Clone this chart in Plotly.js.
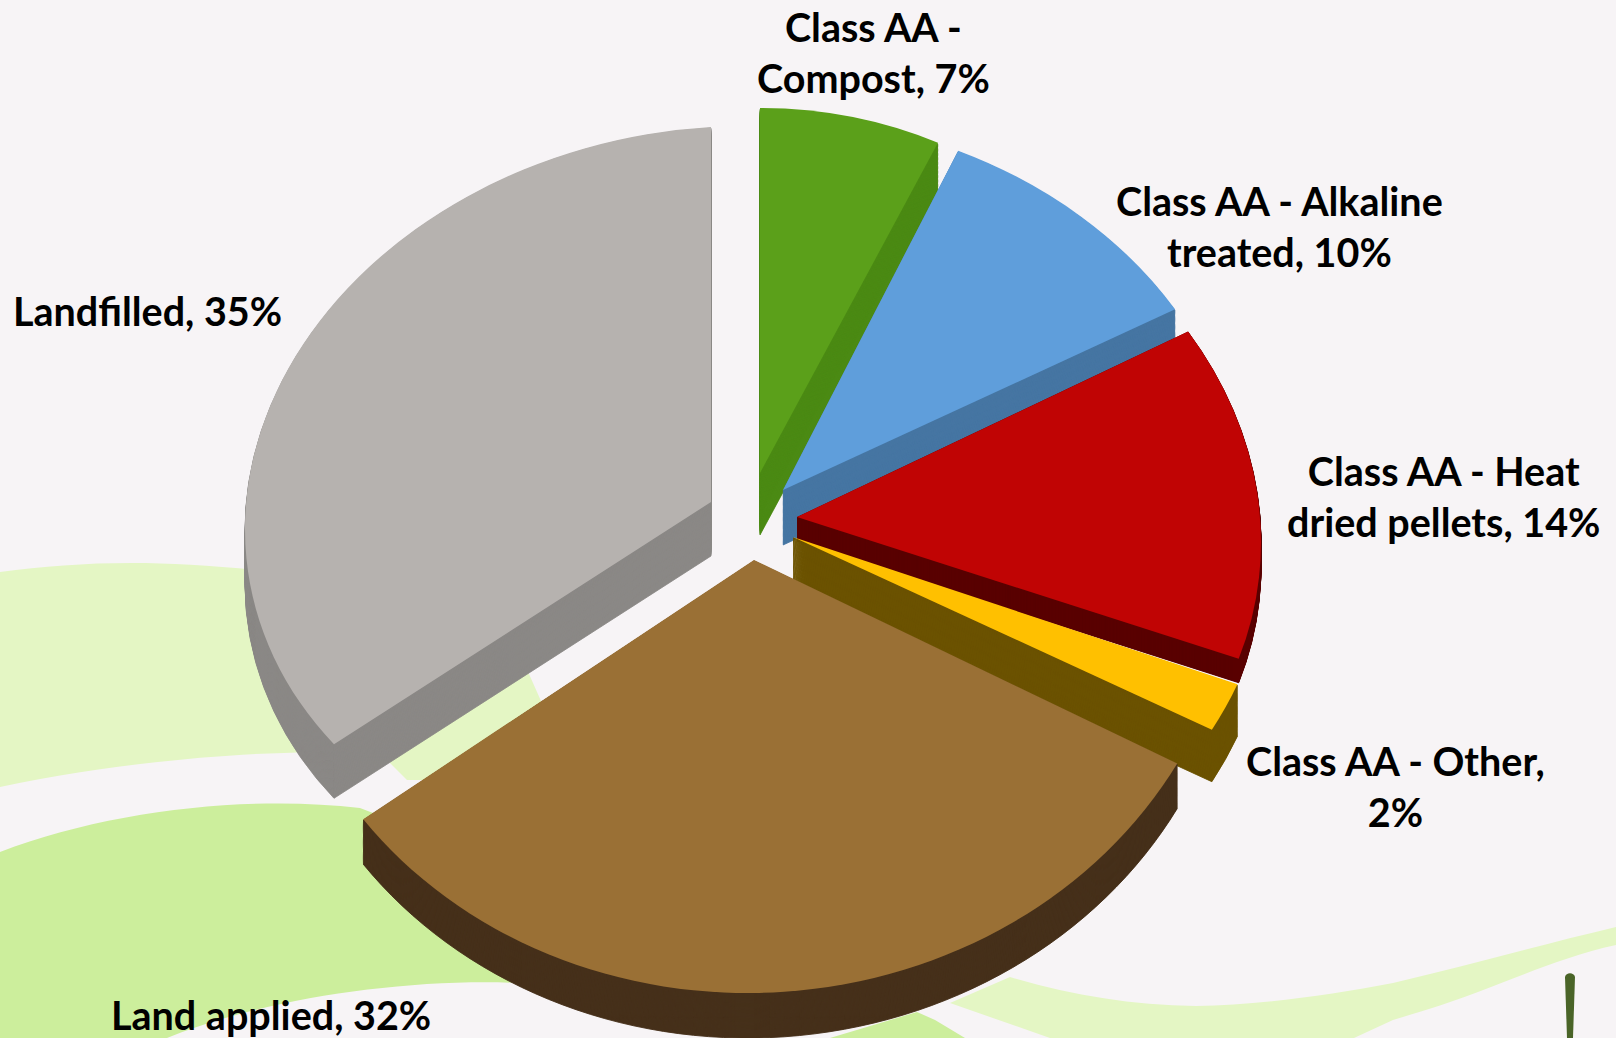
<!DOCTYPE html>
<html>
<head>
<meta charset="utf-8">
<script src="https://cdn.plot.ly/plotly-3.0.1.min.js"></script>
<style>html,body{margin:0;padding:0;background:#f7f4f6;overflow:hidden}#chart{width:1616px;height:1038px}</style>
</head>
<body>
<div id="chart"></div>
<script>
// Data
var categories = ["Class AA - Compost","Class AA - Alkaline treated","Class AA - Heat dried pellets","Class AA - Other","Land applied","Landfilled"];
var shares = [7,10,14,2,32,35];
var labelLines = ["Class AA -<br>Compost, 7%","Class AA - Alkaline<br>treated, 10%","Class AA - Heat<br>dried pellets, 14%","Class AA - Other,<br>2%","Land applied, 32%","Landfilled, 35%"];

// Styles
var topColors  = ["#5ba01a","#5f9edb","#c00404","#ffc000","#9a7035","#b6b2af"];
var sideColors = ["#4b8a14","#4676a3","#5a0000","#6b5200","#46301a","#8b8886"];
var labelX = [873,1279,1443,1395,271,147];
var labelY = [52,226,496,786,1014,311];

// Perspective of each exploded slice: apex point, radii, shear, wall depth
var apexX = [760,783,797,793,754,711];
var apexY = [473,490,517,537,560,502];
var radX  = [418,460,463,478,483,466];
var radY  = [365,375,385,400,433,375];
var shearX = [0,0.061,0.079,0,0,0];
var shearY = [0,0,0,0,-0.012,-0.058];
var depth = [62,55,24,52,45,54];

var W=1616,H=1038,R=500,CX=808,CY=519,LAYERS=48;

function pt(x,y){return (x/W).toFixed(5)+','+(1-y/H).toFixed(5);}
function bgPath(cmds){
  return cmds.map(function(c){
    var s=c[0];
    for(var i=1;i<c.length;i+=2){s+=' '+pt(c[i],c[i+1]);}
    return s;
  }).join(' ')+' Z';
}
var shapes=[
  {d:bgPath([['M',0,572],['C',90,560,180,558,320,578],['L',500,640],['L',525,665],['L',545,710],['L',470,780],['L',407,780],['L',385,758],['C',330,745,150,755,0,787],['L',0,572]]),c:'#e4f6c4'},
  {d:bgPath([['M',0,852],['C',110,810,250,795,360,808],['L',600,900],['L',520,983],['C',400,978,260,1000,167,1038],['L',0,1038]]),c:'#ccee9c'},
  {d:bgPath([['M',830,1038],['L',917,1012],['L',935,1020],['L',965,1038]]),c:'#ccee9c'},
  {d:bgPath([['M',950,1003],['L',1010,977],['C',1070,995,1130,1005,1196,1006],['C',1260,1005,1330,995,1393,983],['C',1470,965,1540,945,1616,927],['L',1616,945],['C',1570,955,1530,972,1491,987],['C',1450,1003,1420,1012,1393,1020],['L',1354,1038],['L',1050,1038]]),c:'#e4f6c4'},
  {d:bgPath([['M',1565,977],['C',1566,972,1574,972,1575,977],['L',1573,1038],['L',1567,1038]]),c:'#4a6428'}
].map(function(s){return {type:'path',xref:'paper',yref:'paper',layer:'below',path:s.d,fillcolor:s.c,line:{width:0}};});

function pieTrace(colors,lineWidth){
  return {type:'pie',labels:categories,values:shares,sort:false,direction:'clockwise',rotation:0,
    textinfo:'none',hoverinfo:'skip',showlegend:false,
    marker:{colors:colors,line:{width:lineWidth,color:colors}},
    domain:{x:[(CX-R)/W,(CX+R)/W],y:[(H-CY-R)/H,(H-CY+R)/H]}};
}
var traces=[];
for(var l=0;l<LAYERS;l++){traces.push(pieTrace(sideColors,1));}
traces.push(pieTrace(topColors,0));

var annotations=labelLines.map(function(t,i){
  return {text:t,x:labelX[i]/W,y:1-labelY[i]/H,xref:'paper',yref:'paper',xanchor:'center',yanchor:'middle',
    showarrow:false,align:'center',font:{family:'Lato, Carlito, "Open Sans", sans-serif',size:39.5,color:'#000',weight:700}};
});

var layout={width:W,height:H,margin:{l:0,r:0,t:0,b:0},paper_bgcolor:'#f7f4f6',plot_bgcolor:'#f7f4f6',
  shapes:shapes,annotations:annotations,showlegend:false};

function perspective(gd){
  var groups=gd.querySelectorAll('.pielayer .trace');
  groups.forEach(function(g,ti){
    var t=ti>=LAYERS?0:1-ti/LAYERS;
    g.querySelectorAll('.slice').forEach(function(s,i){
      var sx=radX[i]/R, sy=radY[i]/R;
      var m='matrix('+sx+','+(shearY[i]*sx)+','+(shearX[i]*sy)+','+sy+','+apexX[i]+','+(apexY[i]+depth[i]*t)+')';
      s.setAttribute('transform',m+' translate('+(-CX)+','+(-CY)+')');
    });
  });
}
var gd=document.getElementById('chart');
Plotly.newPlot(gd,traces,layout,{displayModeBar:false,staticPlot:true}).then(function(){perspective(gd);});
gd.on && gd.on('plotly_afterplot',function(){perspective(gd);});
</script>
</body>
</html>
